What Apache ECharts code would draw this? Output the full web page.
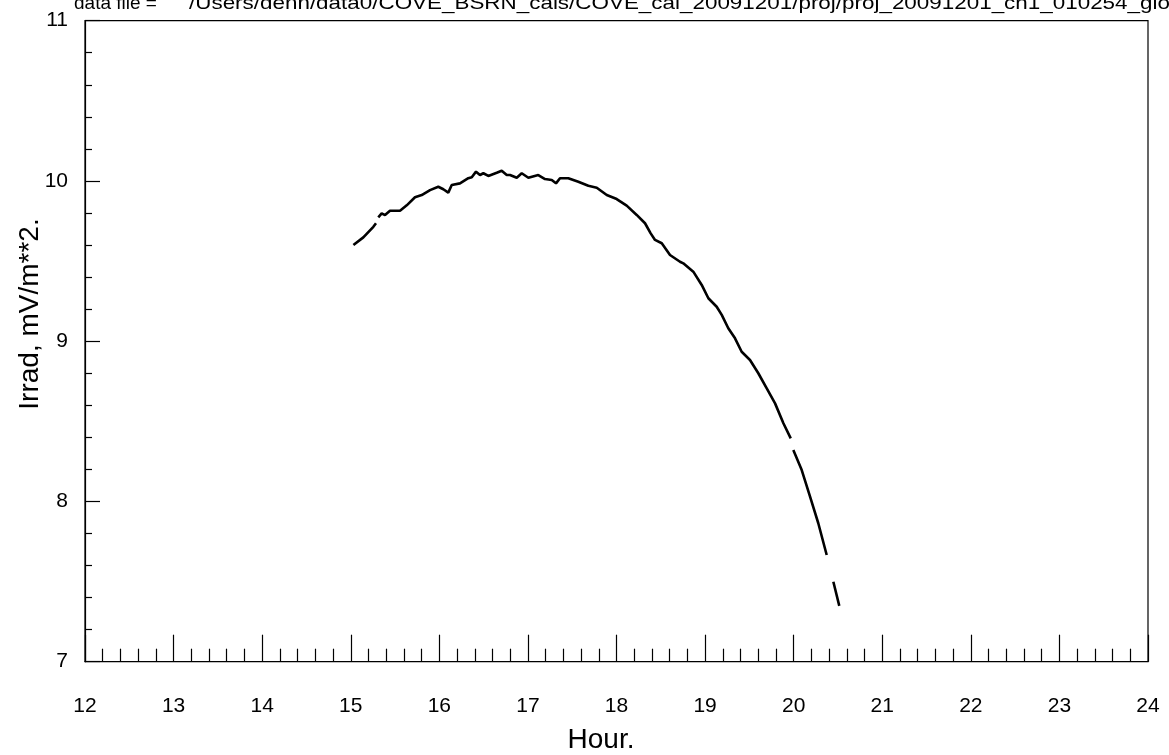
<!DOCTYPE html>
<html>
<head>
<meta charset="utf-8">
<script src="https://cdn.jsdelivr.net/npm/echarts@6/dist/echarts.min.js"></script>
<style>html,body{margin:0;padding:0;background:#fff}#c{width:1169px;height:755px}</style>
</head>
<body>
<div id="c"></div>
<script>
// Hours (null marks a gap in the record)
var hours = [15.03,15.142,15.255,15.285,null,
  15.311,15.349,15.387,15.443,15.556,15.632,15.725,15.801,15.895,15.988,16.045,16.101,16.140,16.233,16.327,16.366,16.414,16.459,16.497,16.553,16.648,16.704,16.761,16.798,16.874,16.930,17.005,17.117,17.193,17.269,17.317,17.362,17.456,17.569,17.682,17.777,17.890,18.002,18.115,18.228,18.322,18.386,18.435,18.511,18.604,18.717,18.754,18.867,18.962,19.037,19.131,19.188,19.262,19.338,19.413,19.507,19.601,19.696,19.790,19.884,19.967,null,
  19.996,20.091,20.185,20.278,20.373,null,
  20.448,20.515];
var irrad = [9.600,9.648,9.714,9.736,null,
  9.773,9.798,9.787,9.814,9.814,9.848,9.898,9.912,9.943,9.964,9.948,9.927,9.975,9.985,10.017,10.023,10.058,10.037,10.048,10.031,10.051,10.064,10.037,10.037,10.020,10.048,10.020,10.037,10.012,10.006,9.985,10.017,10.017,9.995,9.970,9.958,9.912,9.887,9.846,9.788,9.736,9.673,9.632,9.611,9.538,9.496,9.486,9.434,9.351,9.268,9.215,9.164,9.081,9.018,8.934,8.883,8.800,8.706,8.612,8.488,8.394,null,
  8.321,8.196,8.030,7.864,7.666,null,
  7.499,7.348];
var titleLabel = 'data file =';
var titlePath = '/Users/denn/data0/COVE_BSRN_cals/COVE_cal_20091201/proj/proj_20091201_ch1_010254_glo';
var xName = 'Hour.';
var yName = 'Irrad, mV/m**2.';

var data = hours.map(function(h, i){ return (h === null || irrad[i] === null) ? null : [h, irrad[i]]; });

var FONT = '"Liberation Sans", Helvetica, Arial, sans-serif';
var chart = echarts.init(document.getElementById('c'), null, {renderer: 'canvas'});
chart.setOption({
  animation: false,
  backgroundColor: '#fff',
  grid: {left: 85, right: 21, top: 20.7, bottom: 93.3, show: true, borderColor: '#000', borderWidth: 1.2, containLabel: false},
  xAxis: {
    type: 'value', min: 12, max: 24, interval: 1,
    axisLine: {show: true, onZero: false, lineStyle: {color: '#000', width: 1.2}},
    axisTick: {show: true, inside: true, length: 27, lineStyle: {color: '#000', width: 1.2}},
    minorTick: {show: true, splitNumber: 5, length: 13, lineStyle: {color: '#000', width: 1.2}},
    splitLine: {show: false},
    axisLabel: {color: '#000', fontSize: 21, fontFamily: FONT, margin: 34}
  },
  yAxis: {
    type: 'value', min: 7, max: 11, interval: 1,
    axisLine: {show: true, onZero: false, lineStyle: {color: '#000', width: 1.2}},
    axisTick: {show: true, inside: true, length: 15, lineStyle: {color: '#000', width: 1.2}},
    minorTick: {show: true, splitNumber: 5, length: 7, lineStyle: {color: '#000', width: 1.2}},
    splitLine: {show: false},
    axisLabel: {color: '#000', fontSize: 21, fontFamily: FONT, margin: 17}
  },
  graphic: [
    {type: 'text', x: 74, y: -6, style: {text: titleLabel, fill: '#000', font: '19px ' + FONT}},
    {type: 'text', x: 189, y: -6, scaleX: 1.18, style: {text: titlePath, fill: '#000', font: '19px ' + FONT}},
    {type: 'text', x: 601, y: 740, style: {text: xName, fill: '#000', font: '28px ' + FONT, align: 'center', verticalAlign: 'middle'}},
    {type: 'text', x: 30, y: 314, rotation: Math.PI / 2, style: {text: yName, fill: '#000', font: '28px ' + FONT, align: 'center', verticalAlign: 'middle'}}
  ],
  series: [{
    type: 'line', data: data, showSymbol: false, connectNulls: false,
    lineStyle: {color: '#000', width: 2.6}, itemStyle: {color: '#000'}
  }]
});
</script>
</body>
</html>
